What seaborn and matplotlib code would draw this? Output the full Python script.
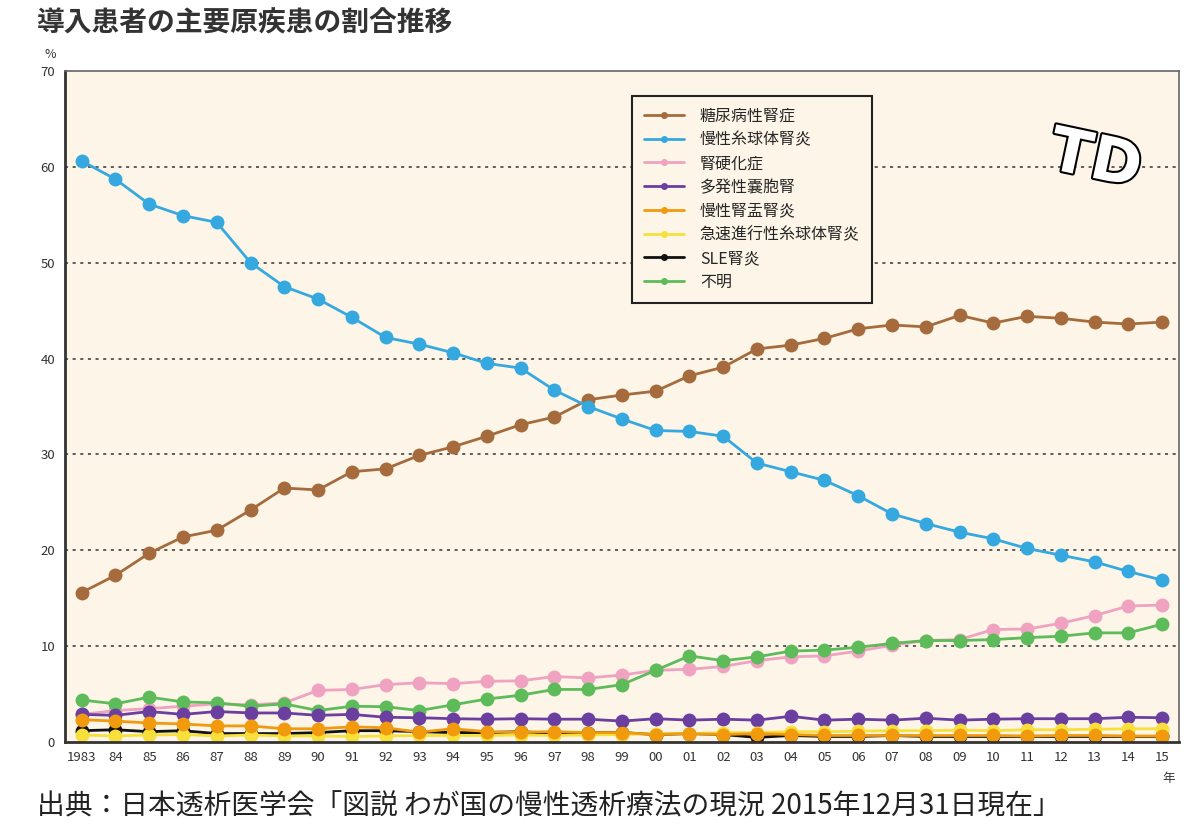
import matplotlib
matplotlib.use("Agg")
import matplotlib.pyplot as plt
import matplotlib.patheffects as pe
from matplotlib.ticker import FixedLocator
import numpy as np
import pandas as pd
import seaborn as sns

sns.set_style("white")
plt.rcParams['font.family'] = ['Noto Sans CJK JP', 'DejaVu Sans']

years = ["1983", "84", "85", "86", "87", "88", "89", "90", "91", "92", "93",
         "94", "95", "96", "97", "98", "99", "00", "01", "02", "03", "04",
         "05", "06", "07", "08", "09", "10", "11", "12", "13", "14", "15"]

diabetic = [15.6, 17.4, 19.7, 21.4, 22.1, 24.2, 26.5, 26.3, 28.2, 28.5, 29.9,
            30.8, 31.9, 33.1, 33.9, 35.7, 36.2, 36.6, 38.2, 39.1, 41.0, 41.4,
            42.1, 43.1, 43.5, 43.3, 44.5, 43.7, 44.4, 44.2, 43.8, 43.6, 43.8]
glomerulo = [60.6, 58.7, 56.1, 54.9, 54.2, 50.0, 47.5, 46.2, 44.3, 42.2, 41.5,
             40.6, 39.5, 39.0, 36.7, 35.0, 33.7, 32.5, 32.4, 31.9, 29.1, 28.2,
             27.3, 25.7, 23.8, 22.8, 21.9, 21.2, 20.2, 19.5, 18.8, 17.8, 16.9]
sclerosis = [2.9, 3.3, 3.5, 3.75, 4.0, 3.9, 4.1, 5.4, 5.5, 6.0, 6.2,
             6.1, 6.35, 6.4, 6.85, 6.7, 7.0, 7.5, 7.6, 7.9, 8.5, 8.9,
             9.0, 9.5, 10.1, 10.6, 10.7, 11.75, 11.8, 12.4, 13.2, 14.2, 14.3]
polycystic = [2.9, 2.8, 3.2, 2.9, 3.2, 3.05, 3.05, 2.8, 2.9, 2.6, 2.55,
              2.45, 2.4, 2.45, 2.4, 2.4, 2.2, 2.45, 2.3, 2.4, 2.3, 2.7,
              2.3, 2.4, 2.3, 2.5, 2.3, 2.4, 2.45, 2.45, 2.45, 2.6, 2.55]
pyelo = [2.35, 2.2, 2.0, 1.9, 1.7, 1.7, 1.4, 1.4, 1.6, 1.5, 1.05,
         1.4, 1.1, 1.05, 1.1, 1.0, 1.0, 0.8, 0.9, 0.8, 0.9, 0.8,
         0.7, 0.7, 0.7, 0.7, 0.7, 0.7, 0.65, 0.7, 0.7, 0.65, 0.65]
rpgn = [0.75, 0.65, 0.75, 0.8, 0.65, 0.75, 0.65, 0.65, 0.6, 0.65, 0.7,
        0.7, 0.7, 0.75, 0.7, 0.75, 0.8, 0.9, 0.9, 1.0, 1.0, 1.1,
        1.1, 1.15, 1.2, 1.2, 1.25, 1.2, 1.3, 1.3, 1.35, 1.4, 1.4]
sle = [1.2, 1.3, 1.1, 1.2, 0.9, 0.9, 0.9, 1.0, 1.2, 1.2, 1.1,
       1.0, 1.0, 1.1, 0.9, 1.0, 1.0, 0.8, 0.9, 0.8, 0.5, 0.7,
       0.6, 0.6, 0.7, 0.6, 0.6, 0.6, 0.6, 0.6, 0.6, 0.6, 0.6]
unknown = [4.4, 4.0, 4.7, 4.2, 4.1, 3.75, 4.0, 3.3, 3.75, 3.7, 3.3,
           3.9, 4.5, 4.9, 5.5, 5.5, 6.0, 7.5, 9.0, 8.5, 8.9, 9.5,
           9.6, 9.9, 10.3, 10.6, 10.6, 10.7, 10.9, 11.05, 11.4, 11.4, 12.3]

names = ["糖尿病性腎症", "慢性糸球体腎炎", "腎硬化症", "多発性嚢胞腎",
         "慢性腎盂腎炎", "急速進行性糸球体腎炎", "SLE腎炎", "不明"]
series = [diabetic, glomerulo, sclerosis, polycystic, pyelo, rpgn, sle, unknown]
colors = ["#A56B3C", "#35A9DF", "#F0A3C0", "#6B3FA0",
          "#F29A0E", "#F7E03C", "#111111", "#5DBB5A"]

df = pd.DataFrame({
    "pos": np.tile(np.arange(len(years)), len(names)),
    "value": np.concatenate(series),
    "cause": np.repeat(names, len(years)),
})

fig = plt.figure(figsize=(12, 8.33), dpi=100)
ax = fig.add_axes([0.054, 0.109, 0.9285, 0.806])
ax.set_facecolor("#FDF5E8")

# draw back-to-front so the small series sit on top like the original
order = ["糖尿病性腎症", "慢性糸球体腎炎", "腎硬化症", "不明", "多発性嚢胞腎",
         "SLE腎炎", "急速進行性糸球体腎炎", "慢性腎盂腎炎"]
pal = dict(zip(names, colors))
for name in order:
    sub = df[df.cause == name]
    sns.lineplot(data=sub, x="pos", y="value", color=pal[name], marker="o",
                 markersize=10, markeredgewidth=0, linewidth=2, ax=ax,
                 label=None, legend=False)

ax.set_xlim(-0.5, len(years) - 0.5)
ax.set_ylim(0, 70)
ax.set_xlabel("")
ax.set_ylabel("")
ax.set_xticks(np.arange(len(years)))
ax.set_xticklabels(years, fontsize=9.5, color="#333333")
ax.xaxis.set_minor_locator(FixedLocator(np.arange(len(years)) + 0.5))
ax.tick_params(axis="x", which="major", length=0, pad=6)
ax.tick_params(axis="x", which="minor", length=5, width=1.2, color="#333333",
               direction="out")
ax.set_yticks(range(0, 71, 10))
ax.tick_params(axis="y", labelsize=9.5, labelcolor="#333333", length=5,
               width=1.2, color="#555555", direction="out", pad=2)
for y in range(10, 70, 10):
    ax.axhline(y, color="#333333", linestyle=(0, (2, 3)), linewidth=1.1, zorder=0)

for side in ["left", "bottom"]:
    ax.spines[side].set_color("#333333")
    ax.spines[side].set_linewidth(2)
for side in ["top", "right"]:
    ax.spines[side].set_color("#666666")
    ax.spines[side].set_linewidth(1.2)

# legend
handles = [plt.Line2D([], [], color=c, linewidth=2, marker="o", markersize=4)
           for c in colors]
leg = ax.legend(handles, names, loc="upper left", bbox_to_anchor=(0.509, 0.963),
                frameon=True, fancybox=False, fontsize=11.5, handlelength=2.5,
                labelspacing=0.42, borderpad=0.75, handletextpad=1.0,
                borderaxespad=0)
leg.get_frame().set_edgecolor("#222222")
leg.get_frame().set_linewidth(1.5)
leg.get_frame().set_facecolor("#FDF5E8")
leg.get_frame().set_alpha(1)

# logo stand-in
ax.text(0.925, 0.865, "TD", transform=ax.transAxes, fontsize=44,
        fontweight="bold", color="white", ha="center", va="center",
        family="DejaVu Sans", rotation=-12,
        path_effects=[pe.withStroke(linewidth=3, foreground="black")])

fig.text(0.031, 0.972, "導入患者の主要原疾患の割合推移", fontsize=20,
         fontweight="bold", color="#333333", va="center")
fig.text(0.037, 0.934, "%", fontsize=9, color="#333333", va="center")
fig.text(0.974, 0.066, "年", fontsize=9, color="#333333", ha="center",
         va="center")
fig.text(0.031, 0.032,
         "出典：日本透析医学会「図説 わが国の慢性透析療法の現況 2015年12月31日現在」",
         fontsize=20, color="#222222", va="center")

fig.savefig("out.png", dpi=100, facecolor="white")
